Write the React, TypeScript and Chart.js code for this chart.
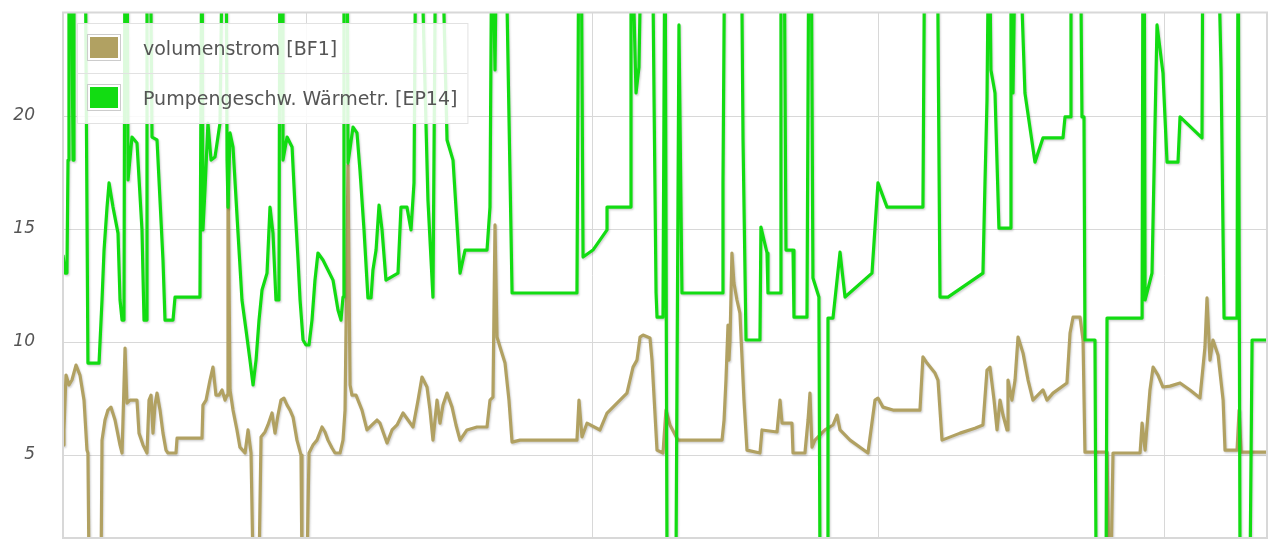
import React, { useEffect, useRef } from "react";
import { Chart, registerables } from "chart.js";

Chart.register(...registerables);

const SERIES_LABELS = ["volumenstrom [BF1]", "Pumpengeschw. Wärmetr. [EP14]"];
const SERIES_COLORS = ["#b1a162", "#12dc12"];
const Y_TICKS = [5, 10, 15, 20];
const DAY_TICKS = [24, 48, 72, 96];
const X_RANGE = [3.63, 104.55];
const Y_RANGE = [1.33, 24.58];

// volumenstrom [BF1] : time (h) / value
const FLOW_TIMES = [
  3.63, 3.71, 3.88, 4.13, 4.38, 4.72, 5.05, 5.39, 5.64, 5.72,
  5.81, 6.82, 6.9, 7.15, 7.4, 7.65, 7.99, 8.41, 8.58, 8.83,
  8.99, 9.25, 9.83, 10.0, 10.34, 10.67, 10.84, 11.01, 11.17, 11.34,
  11.51, 11.76, 12.01, 12.26, 12.43, 13.1, 13.19, 15.28, 15.36, 15.62,
  15.95, 16.2, 16.45, 16.71, 16.96, 17.21, 17.38, 17.46, 17.63, 17.88,
  18.21, 18.46, 18.89, 19.14, 19.39, 19.56, 20.06, 20.23, 20.56, 20.81,
  21.15, 21.4, 21.65, 21.9, 22.15, 22.41, 22.66, 22.91, 23.24, 23.58,
  23.66, 24.08, 24.25, 24.58, 24.92, 25.34, 25.59, 25.84, 26.18, 26.43,
  26.85, 27.1, 27.27, 27.52, 27.69, 27.85, 28.19, 28.69, 29.11, 29.53,
  29.95, 30.2, 30.79, 31.21, 31.63, 32.13, 32.55, 32.97, 33.39, 33.72,
  34.14, 34.39, 34.64, 34.98, 35.23, 35.48, 35.82, 36.24, 36.57, 36.91,
  37.49, 38.33, 39.17, 39.42, 39.67, 39.84, 40.01, 40.26, 40.68, 41.01,
  41.27, 41.94, 46.71, 46.88, 47.13, 47.55, 48.64, 49.23, 50.9, 51.41,
  51.74, 52.0, 52.25, 52.83, 53.0, 53.42, 53.92, 54.17, 54.51, 55.18,
  58.87, 59.04, 59.2, 59.37, 59.45, 59.54, 59.7, 59.87, 60.12, 60.37,
  60.71, 60.96, 62.05, 62.22, 63.48, 63.73, 63.9, 64.73, 64.82, 65.82,
  66.08, 66.24, 66.41, 66.66, 67.5, 68.17, 68.51, 68.76, 69.6, 71.1,
  71.69, 71.94, 72.36, 73.2, 75.46, 75.71, 76.05, 76.72, 76.97, 77.31,
  78.82, 80.07, 80.74, 81.08, 81.33, 81.67, 81.92, 82.17, 82.42, 82.76,
  82.84, 83.17, 83.43, 83.68, 84.1, 84.52, 84.93, 85.77, 86.11, 86.61,
  87.78, 88.04, 88.29, 88.88, 89.13, 89.29, 91.14, 91.31, 91.48, 91.64,
  93.91, 94.08, 94.33, 94.74, 95.0, 95.41, 95.83, 96.42, 97.26, 98.09,
  98.93, 99.35, 99.52, 99.77, 100.02, 100.45, 100.87, 101.03, 102.04, 102.21,
  102.38, 104.55,
];
const FLOW_VALUES = [
  5.44, 6.11, 8.54, 8.1, 8.32, 8.98, 8.54, 7.43, 5.22, 5.09,
  0, 0, 5.66, 6.55, 6.99, 7.12, 6.55, 5.44, 5.09, 9.73,
  7.3, 7.43, 7.43, 5.97, 5.44, 5.09, 7.43, 7.65, 5.97, 7.21,
  7.74, 6.99, 5.97, 5.22, 5.09, 5.09, 5.75, 5.75, 7.21, 7.43,
  8.32, 8.89, 7.65, 7.65, 7.88, 7.43, 7.65, 18.05, 7.88, 6.99,
  6.11, 5.35, 5.09, 6.11, 5.09, 0, 0, 5.8, 6.02, 6.33,
  6.86, 5.97, 6.77, 7.43, 7.52, 7.21, 6.99, 6.68, 5.66, 5.0,
  0, 0, 5.09, 5.44, 5.66, 6.24, 6.02, 5.66, 5.31, 5.09,
  5.09, 5.66, 6.99, 17.83, 8.1, 7.65, 7.65, 6.99, 6.11, 6.33,
  6.55, 6.41, 5.53, 6.11, 6.33, 6.86, 6.55, 6.24, 7.43, 8.45,
  8.01, 6.99, 5.66, 7.43, 6.41, 7.21, 7.74, 7.12, 6.33, 5.66,
  6.11, 6.24, 6.24, 7.43, 7.56, 15.18, 10.22, 9.78, 9.07, 7.43,
  5.57, 5.66, 5.66, 7.43, 5.8, 6.41, 6.11, 6.86, 7.74, 8.89,
  9.2, 10.22, 10.31, 10.18, 9.2, 5.22, 5.09, 6.99, 6.33, 5.66,
  5.66, 6.55, 8.32, 10.75, 9.2, 10.09, 13.94, 12.61, 11.86, 11.28,
  7.43, 5.22, 5.09, 6.11, 6.02, 7.43, 6.41, 6.41, 5.09, 5.09,
  6.55, 7.74, 5.35, 5.66, 6.11, 6.33, 6.77, 6.11, 5.66, 5.09,
  7.43, 7.52, 7.12, 6.99, 6.99, 9.34, 9.07, 8.63, 8.32, 5.66,
  5.97, 6.19, 6.33, 8.76, 8.89, 7.43, 6.11, 7.43, 6.77, 6.11,
  8.32, 7.43, 8.32, 10.22, 9.51, 8.32, 7.43, 7.88, 7.43, 7.74,
  8.19, 10.4, 11.1, 11.1, 10.09, 5.13, 5.13, 0, 0, 5.09,
  5.09, 6.41, 5.22, 7.88, 8.89, 8.54, 8.01, 8.05, 8.19, 7.88,
  7.52, 9.78, 11.95, 9.2, 10.09, 9.42, 7.43, 5.22, 5.22, 6.99,
  5.13, 5.13,
];

// Pumpengeschw. Wärmetr. [EP14] : time (h) / value
const PUMP_TIMES = [
  3.63, 3.8, 3.96, 4.05, 4.13, 4.3, 4.47, 4.55, 5.47, 5.72,
  6.65, 6.9, 7.07, 7.32, 7.49, 7.82, 8.24, 8.41, 8.58, 8.74,
  8.83, 8.99, 9.08, 9.41, 9.83, 10.25, 10.42, 10.59, 10.67, 10.92,
  11.09, 11.51, 11.76, 12.01, 12.18, 12.85, 13.02, 15.11, 15.28, 15.36,
  15.53, 15.78, 16.04, 16.37, 16.79, 17.04, 17.29, 17.38, 17.46, 17.63,
  17.88, 18.3, 18.63, 18.97, 19.3, 19.56, 19.81, 20.06, 20.31, 20.73,
  20.98, 21.23, 21.48, 21.73, 21.82, 21.99, 22.07, 22.41, 22.83, 23.08,
  23.33, 23.5, 23.75, 24.0, 24.25, 24.5, 24.75, 25.0, 25.42, 25.84,
  26.26, 26.68, 26.93, 27.1, 27.18, 27.43, 27.52, 27.94, 28.27, 28.52,
  28.86, 29.19, 29.45, 29.61, 29.87, 30.12, 30.37, 30.7, 31.71, 31.96,
  32.46, 32.8, 33.05, 33.22, 33.55, 34.22, 34.64, 34.89, 35.31, 35.82,
  36.32, 36.91, 37.33, 39.17, 39.42, 39.59, 39.84, 40.01, 40.68, 41.27,
  46.71, 46.88, 47.05, 47.22, 48.05, 49.23, 49.23, 51.16, 51.24, 51.66,
  51.91, 52.16, 53.0, 53.17, 53.34, 53.42, 53.92, 54.09, 54.26, 55.01,
  55.26, 55.51, 58.87, 58.95, 59.12, 60.46, 60.63, 60.88, 62.05, 62.13,
  62.64, 62.72, 63.73, 63.81, 64.06, 64.23, 64.82, 64.9, 65.99, 66.16,
  66.33, 66.49, 66.99, 67.08, 67.67, 67.75, 68.17, 68.76, 69.18, 71.44,
  71.94, 72.7, 75.71, 75.88, 76.89, 77.14, 77.81, 80.74, 80.91, 81.08,
  81.25, 81.41, 81.75, 82.08, 83.01, 83.09, 83.26, 83.51, 83.68, 84.26,
  85.1, 85.77, 87.45, 87.62, 88.04, 88.12, 88.88, 89.04, 89.21, 89.29,
  90.13, 90.22, 91.06, 91.14, 94.08, 94.16, 94.25, 94.33, 94.91, 95.33,
  95.83, 96.17, 97.09, 97.26, 99.1, 99.18, 100.36, 100.7, 100.95, 102.04,
  102.13, 102.29, 103.13, 103.3, 104.55,
];
const PUMP_VALUES = [
  13.85, 13.05, 13.05, 18.05, 30, 30, 18.05, 30, 30, 9.07,
  9.07, 11.86, 14.07, 15.97, 17.04, 15.97, 14.82, 11.86, 10.97, 10.97,
  30, 30, 17.17, 19.07, 18.81, 14.96, 10.97, 10.97, 30, 30,
  19.07, 18.94, 16.28, 13.63, 10.97, 10.97, 11.99, 11.99, 30, 14.96,
  16.73, 19.69, 18.05, 18.19, 19.69, 30, 30, 18.05, 15.97, 19.25,
  18.63, 14.82, 11.86, 10.53, 9.2, 8.1, 9.2, 10.97, 12.3, 13.05,
  15.97, 14.82, 11.86, 11.86, 30, 30, 18.05, 19.07, 18.63, 15.97,
  13.63, 11.86, 10.09, 9.87, 9.87, 10.97, 12.74, 13.94, 13.63, 13.19,
  12.74, 11.42, 10.97, 11.99, 30, 30, 17.92, 19.51, 19.25, 17.61,
  14.96, 11.95, 11.95, 13.19, 14.07, 16.06, 14.96, 12.74, 13.05, 15.97,
  15.97, 14.96, 17.04, 30, 30, 16.28, 11.99, 30, 30, 18.94,
  18.05, 13.05, 14.07, 14.07, 15.97, 30, 22.04, 30, 30, 12.17,
  12.17, 30, 30, 13.76, 14.07, 14.96, 15.97, 15.97, 30, 21.02,
  22.17, 30, 30, 20.84, 12.17, 11.1, 11.1, 30, 0, 0,
  24.03, 12.17, 12.17, 17.04, 30, 30, 18.94, 10.09, 10.09, 15.09,
  13.94, 12.17, 12.17, 30, 30, 14.07, 14.07, 11.1, 11.1, 30,
  30, 12.83, 11.99, 0, 0, 11.06, 11.06, 13.98, 11.99, 13.05,
  17.04, 15.97, 15.97, 30, 30, 11.99, 11.99, 13.05, 17.04, 20.71,
  30, 22.04, 21.02, 15.04, 15.04, 30, 21.02, 30, 30, 21.02,
  17.96, 19.03, 19.03, 19.96, 19.96, 30, 30, 19.96, 19.96, 10.09,
  10.09, 0, 0, 11.06, 11.06, 30, 30, 11.86, 13.05, 24.03,
  21.9, 17.96, 17.96, 19.96, 19.03, 30, 30, 22.04, 11.06, 11.06,
  30, 0, 0, 10.09, 10.09,
];

const toPoints = (times: number[], values: number[]) =>
  times.map((t, i) => ({ x: t, y: values[i] }));

const GRID_COLOR = "#d8d8d8";
const TEXT_COLOR = "#555555";

const lineShadow = {
  id: "lineShadow",
  beforeDatasetDraw(chart: any) {
    const ctx = chart.ctx;
    ctx.save();
    ctx.shadowColor = "rgba(0,0,0,0.18)";
    ctx.shadowBlur = 2;
    ctx.shadowOffsetX = 1;
    ctx.shadowOffsetY = 1.5;
  },
  afterDatasetDraw(chart: any) {
    chart.ctx.restore();
  },
};

const frameAndLegend = {
  id: "frameAndLegend",
  afterDraw(chart: any) {
    const { ctx, chartArea: a } = chart;
    ctx.save();
    ctx.strokeStyle = GRID_COLOR;
    ctx.lineWidth = 2;
    ctx.strokeRect(a.left, a.top, a.right - a.left, a.bottom - a.top);

    // legend box inside the plot, top-left
    ctx.font = '19px "DejaVu Sans"';
    const textWidth = Math.max(...SERIES_LABELS.map((l) => ctx.measureText(l).width));
    const lx = a.left + 14;
    const ly = a.top + 10.5;
    const rowH = 50;
    const lw = 66 + textWidth + 10;
    const lh = rowH * SERIES_LABELS.length;
    ctx.fillStyle = "rgba(255,255,255,0.86)";
    ctx.fillRect(lx, ly, lw, lh);
    ctx.strokeStyle = "#e2e2e2";
    ctx.lineWidth = 1;
    ctx.strokeRect(lx + 0.5, ly + 0.5, lw, lh);
    for (let i = 1; i < SERIES_LABELS.length; i++) {
      ctx.beginPath();
      ctx.moveTo(lx, ly + rowH * i + 0.5);
      ctx.lineTo(lx + lw, ly + rowH * i + 0.5);
      ctx.stroke();
    }
    SERIES_LABELS.forEach((label, i) => {
      const rowTop = ly + rowH * i;
      ctx.strokeStyle = "#cccccc";
      ctx.lineWidth = 1;
      ctx.strokeRect(lx + 10.5, rowTop + 11.5, 33, 26);
      ctx.fillStyle = SERIES_COLORS[i];
      ctx.fillRect(lx + 13, rowTop + 14, 28, 21);
      ctx.fillStyle = TEXT_COLOR;
      ctx.textBaseline = "middle";
      ctx.textAlign = "left";
      ctx.fillText(label, lx + 66, rowTop + 27);
    });
    ctx.restore();
  },
};

export default function App() {
  const canvasRef = useRef<HTMLCanvasElement | null>(null);

  useEffect(() => {
    if (!canvasRef.current) return;
    const chart = new Chart(canvasRef.current, {
      type: "line",
      data: {
        datasets: [
          {
            label: SERIES_LABELS[0],
            data: toPoints(FLOW_TIMES, FLOW_VALUES),
            borderColor: SERIES_COLORS[0],
            backgroundColor: SERIES_COLORS[0],
            borderWidth: 3.2,
            pointRadius: 0,
            tension: 0,
            borderJoinStyle: "round",
            fill: false,
            order: 1,
            clip: 0,
          },
          {
            label: SERIES_LABELS[1],
            data: toPoints(PUMP_TIMES, PUMP_VALUES),
            borderColor: SERIES_COLORS[1],
            backgroundColor: SERIES_COLORS[1],
            borderWidth: 3.2,
            pointRadius: 0,
            tension: 0,
            borderJoinStyle: "round",
            fill: false,
            order: 0,
            clip: 0,
          },
        ],
      },
      options: {
        animation: false,
        responsive: true,
        maintainAspectRatio: false,
        layout: { padding: { left: 0, top: 12.5, right: 13, bottom: 12 } },
        plugins: { legend: { display: false }, tooltip: { enabled: false } },
        scales: {
          x: {
            type: "linear",
            min: X_RANGE[0],
            max: X_RANGE[1],
            afterBuildTicks: (scale: any) => {
              scale.ticks = DAY_TICKS.map((v) => ({ value: v }));
            },
            afterFit: (scale: any) => {
              scale.height = 0;
              scale.paddingLeft = 0;
              scale.paddingRight = 0;
            },
            ticks: { display: false },
            grid: { color: GRID_COLOR, lineWidth: 1, drawTicks: false },
            border: { display: false },
          },
          y: {
            type: "linear",
            min: Y_RANGE[0],
            max: Y_RANGE[1],
            afterBuildTicks: (scale: any) => {
              scale.ticks = Y_TICKS.map((v) => ({ value: v }));
            },
            afterFit: (scale: any) => {
              scale.width = 63;
              scale.paddingTop = 0;
              scale.paddingBottom = 0;
            },
            ticks: {
              padding: 28,
              color: TEXT_COLOR,
              font: { family: "DejaVu Sans", size: 17, style: "italic" },
            },
            grid: { color: GRID_COLOR, lineWidth: 1, drawTicks: false },
            border: { display: false },
          },
        },
      },
      plugins: [lineShadow, frameAndLegend],
    } as any);
    return () => chart.destroy();
  }, []);

  return (
    <div
      style={{
        position: "fixed",
        left: 0,
        top: 0,
        width: 1280,
        height: 550,
        background: "#ffffff",
      }}
    >
      <canvas ref={canvasRef} />
    </div>
  );
}
